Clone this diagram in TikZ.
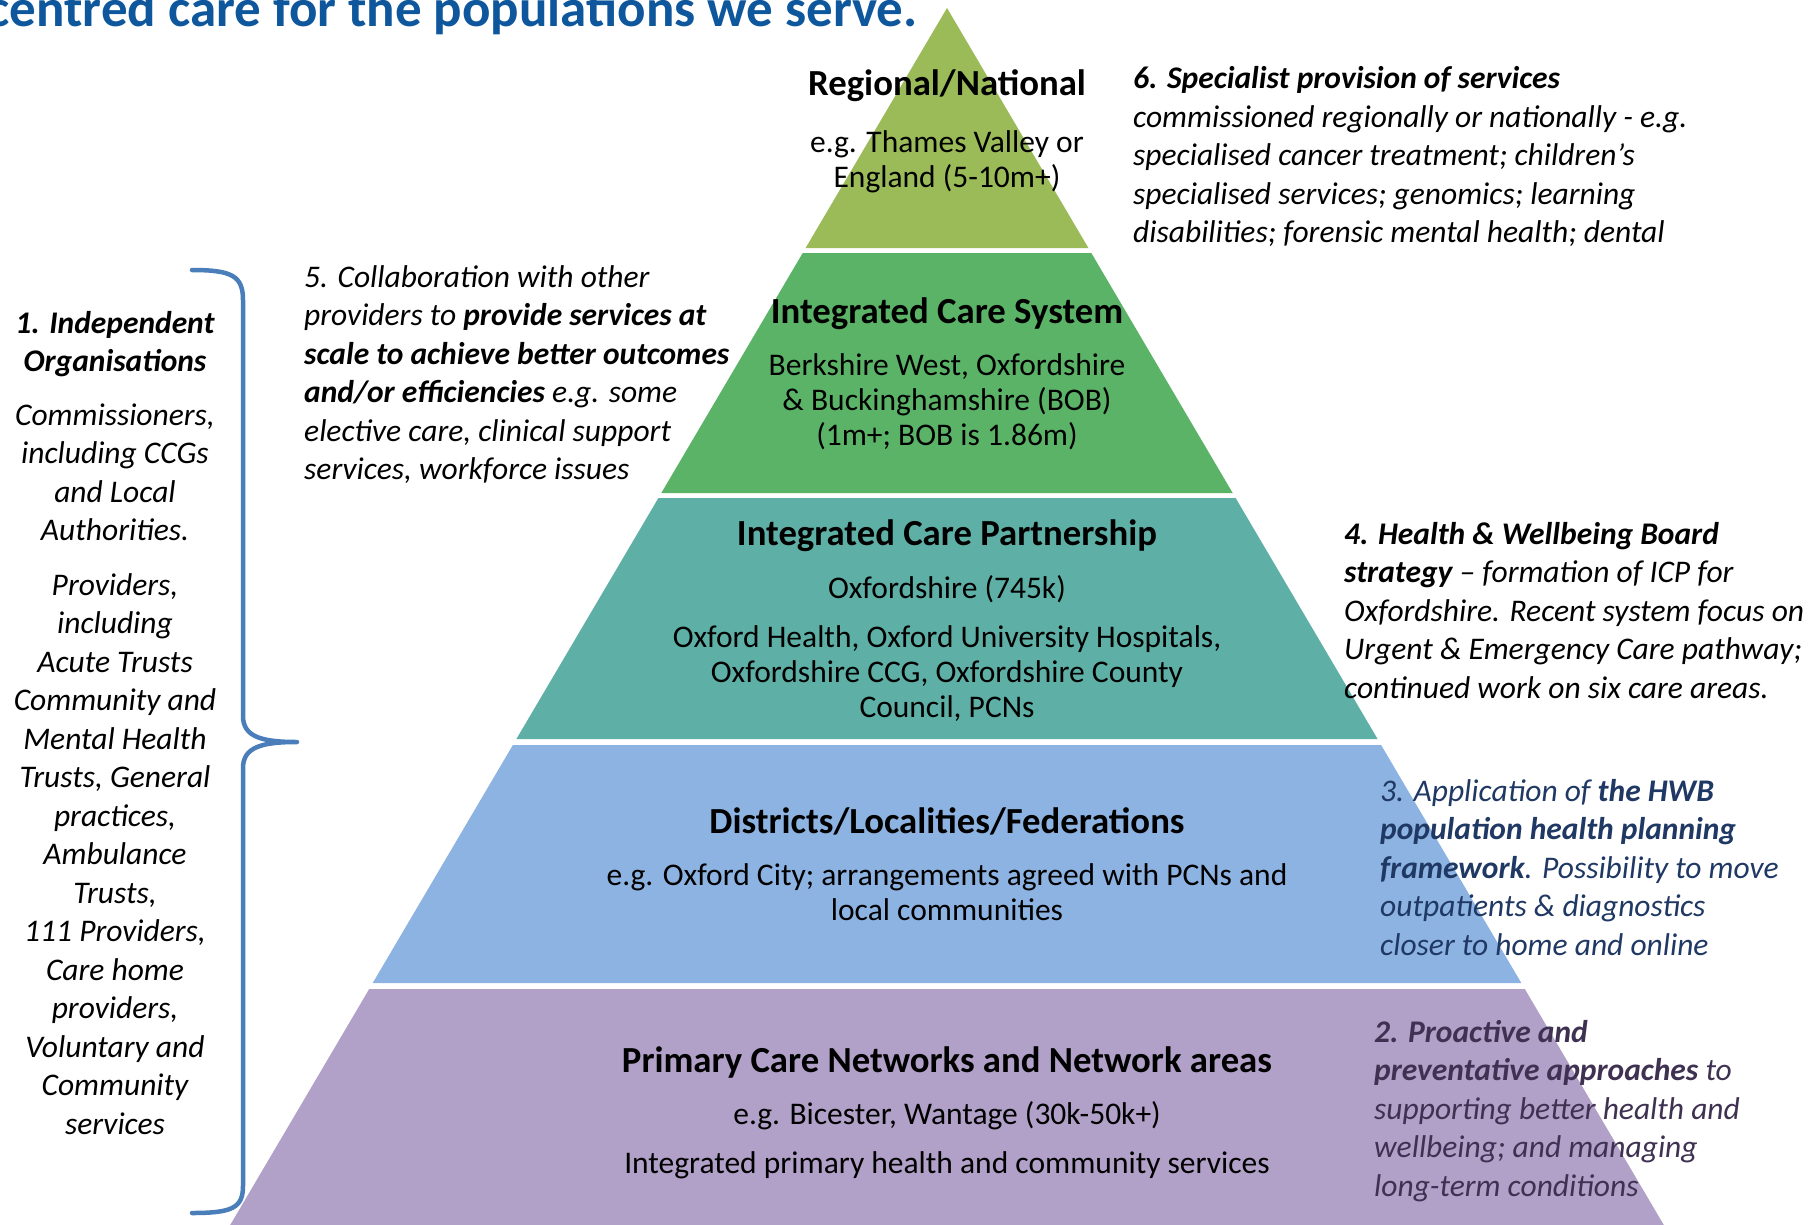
\documentclass[tikz,border=0pt]{standalone}
\usepackage{fontspec}
\setmainfont{Carlito}
\definecolor{tA}{RGB}{155,187,89}
\definecolor{tB}{RGB}{91,179,103}
\definecolor{tC}{RGB}{94,176,166}
\definecolor{tD}{RGB}{141,179,226}
\definecolor{tE}{RGB}{177,160,199}
\definecolor{braceblue}{RGB}{74,126,187}
\definecolor{titleblue}{RGB}{14,87,156}
\definecolor{navytext}{RGB}{31,56,100}
\definecolor{plumtext}{RGB}{63,49,81}
\newcommand\myheadfont{\fontsize{36.75}{44}\selectfont\bfseries}
\newcommand\mytierfont{\fontsize{31.5}{35}\selectfont}
\newcommand\mybodyfont{\fontsize{31.5}{38.5}\selectfont}
\begin{document}
\begin{tikzpicture}[x=1pt,y=-1pt,
  tiertitle/.style={anchor=base,inner sep=0pt,font=\myheadfont},
  tierbody/.style={anchor=base,inner sep=0pt,font=\mytierfont},
  sidetext/.style={anchor=base west,inner sep=0pt,font=\mybodyfont\itshape},
  lefttext/.style={anchor=base,inner sep=0pt,font=\mybodyfont\itshape},
  bracestyle/.style={draw=braceblue,line width=4.5pt,line cap=round,line join=round}]
\useasboundingbox (0,0) rectangle (1819,1225);
\fill[white] (0,0) rectangle (1819,1225);
% title (cut off at the top and left edges, as in the reference)
\node[anchor=base east,inner sep=0pt,text=titleblue,font=\fontsize{53}{60}\selectfont\bfseries] (title) at (918,27) {centred care for the populations we serve.};
% pyramid tiers
\fill[tA] (947,8) -- (1088.4,248) -- (805.6,248) -- cycle;
\fill[tB] (802.7,253) -- (1091.3,253) -- (1232.7,493) -- (661.3,493) -- cycle;
\fill[tC] (658.4,498) -- (1235.6,498) -- (1377.6,739) -- (516.4,739) -- cycle;
\fill[tD] (512.9,745) -- (1381.1,745) -- (1521.3,983) -- (372.7,983) -- cycle;
\fill[tE] (369.2,989) -- (1524.8,989) -- (1669.7,1235) -- (224.3,1235) -- cycle;
% tier texts
\node[tiertitle] (h1) at (947,96) {Regional/National};
\node[tierbody] (b1) at (947,153) {\begin{tabular}[t]{@{}c@{}}e.g. Thames Valley or\\England (5-10m+)\end{tabular}};
\node[tiertitle] (h2) at (947,323) {Integrated Care System};
\node[tierbody] (b2) at (947,375) {\begin{tabular}[t]{@{}c@{}}Berkshire West, Oxfordshire\\\& Buckinghamshire (BOB)\\(1m+; BOB is 1.86m)\end{tabular}};
\node[tiertitle] (h3) at (947,545) {Integrated Care Partnership};
\node[tierbody] (b3a) at (947,598) {Oxfordshire (745k)};
\node[tierbody] (b3b) at (947,647) {\begin{tabular}[t]{@{}c@{}}Oxford Health, Oxford University Hospitals,\\Oxfordshire CCG, Oxfordshire County\\Council, PCNs\end{tabular}};
\node[tiertitle] (h4) at (947,833) {Districts/Localities/Federations};
\node[tierbody] (b4) at (947,885) {\begin{tabular}[t]{@{}c@{}}e.g. Oxford City; arrangements agreed with PCNs and\\local communities\end{tabular}};
\node[tiertitle] (h5) at (947,1072) {Primary Care Networks and Network areas};
\node[tierbody] (b5a) at (947,1124) {e.g. Bicester, Wantage (30k-50k+)};
\node[tierbody] (b5b) at (947,1173) {Integrated primary health and community services};
% side texts
\node[sidetext] (s6) at (1133,89) {\begin{tabular}[t]{@{}l@{}}\textbf{6. Specialist provision of services}\\commissioned regionally or nationally - e.g.\\specialised cancer treatment; children’s\\specialised services; genomics; learning\\disabilities; forensic mental health; dental\end{tabular}};
\node[sidetext] (s5) at (304,287) {\begin{tabular}[t]{@{}l@{}}5. Collaboration with other\\providers to \textbf{provide services at}\\\textbf{scale to achieve better outcomes}\\\textbf{and/or efficiencies} e.g. some\\elective care, clinical support\\services, workforce issues\end{tabular}};
\node[sidetext] (s4) at (1344,544) {\begin{tabular}[t]{@{}l@{}}\textbf{4. Health \& Wellbeing Board}\\\textbf{strategy} -- formation of ICP for\\Oxfordshire. Recent system focus on\\Urgent \& Emergency Care pathway;\\continued work on six care areas.\end{tabular}};
\node[sidetext,text=navytext] (s3) at (1380,801) {\begin{tabular}[t]{@{}l@{}}3. Application of \textbf{the HWB}\\\textbf{population health planning}\\\textbf{framework}. Possibility to move\\outpatients \& diagnostics\\closer to home and online\end{tabular}};
\node[sidetext,text=plumtext] (s2) at (1374,1042) {\begin{tabular}[t]{@{}l@{}}\textbf{2. Proactive and}\\\textbf{preventative approaches} to\\supporting better health and\\wellbeing; and managing\\long-term conditions\end{tabular}};
% left column
\node[lefttext] (s1) at (115,333) {\begin{tabular}[t]{@{}c@{}}\textbf{1. Independent}\\\textbf{Organisations}\\[15pt]Commissioners,\\including CCGs\\and Local\\Authorities.\\[16pt]Providers,\\including\\Acute Trusts\\Community and\\Mental Health\\Trusts, General\\practices,\\Ambulance\\Trusts,\\111 Providers,\\Care home\\providers,\\Voluntary and\\Community\\services\end{tabular}};
% brace
\draw[bracestyle] (192,270) .. controls (232,270) and (243,276) .. (243,300) -- (243,716) .. controls (243,737) and (262,742) .. (297,742)
  .. controls (262,742) and (243,747) .. (243,768) -- (243,1186) .. controls (243,1208) and (232,1213) .. (192,1213);
\end{tikzpicture}
\end{document}
